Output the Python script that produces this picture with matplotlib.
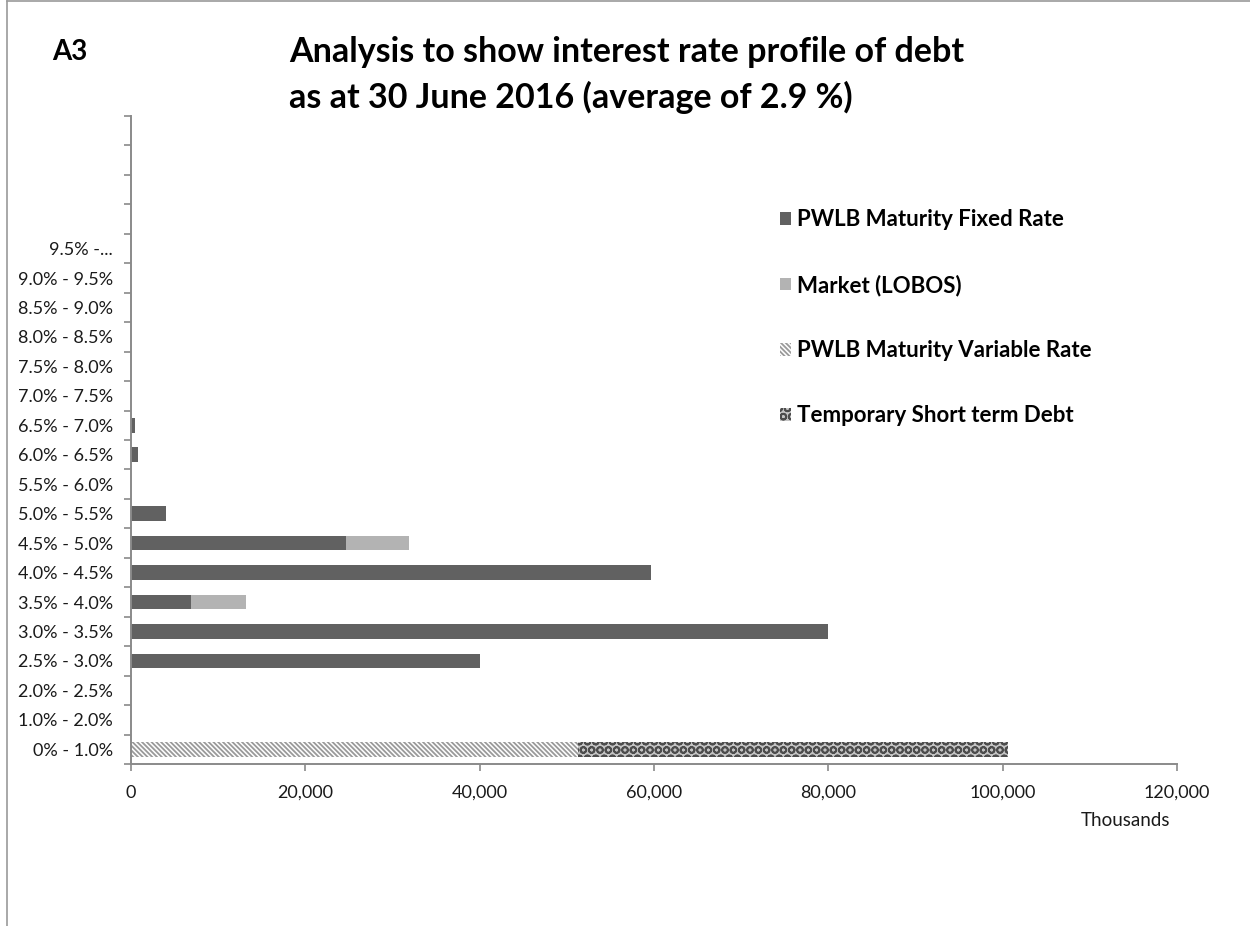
import matplotlib
matplotlib.use("Agg")
import matplotlib.pyplot as plt
import numpy as np
from matplotlib.lines import Line2D
from matplotlib.ticker import FuncFormatter

plt.rcParams['font.family'] = ['Lato', 'DejaVu Sans']
plt.rcParams['hatch.linewidth'] = 1.3

# interest rate bands, bottom to top (top four left blank)
bands = ["0% - 1.0%", "1.0% - 2.0%", "2.0% - 2.5%", "2.5% - 3.0%", "3.0% - 3.5%",
         "3.5% - 4.0%", "4.0% - 4.5%", "4.5% - 5.0%", "5.0% - 5.5%", "5.5% - 6.0%",
         "6.0% - 6.5%", "6.5% - 7.0%", "7.0% - 7.5%", "7.5% - 8.0%", "8.0% - 8.5%",
         "8.5% - 9.0%", "9.0% - 9.5%", "9.5% -...", "", "", "", ""]

# debt in £ thousands
pwlb_fixed = [0, 0, 0, 40000, 79950, 6900, 59650, 24650, 4000, 0,
              850, 450, 0, 0, 0, 0, 0, 0, 0, 0, 0, 0]
market_lobos = [0, 0, 0, 0, 0, 6250, 0, 7250, 0, 0,
                0, 0, 0, 0, 0, 0, 0, 0, 0, 0, 0, 0]
pwlb_variable = [51300, 0, 0, 0, 0, 0, 0, 0, 0, 0,
                 0, 0, 0, 0, 0, 0, 0, 0, 0, 0, 0, 0]
temp_short = [49300, 0, 0, 0, 0, 0, 0, 0, 0, 0,
              0, 0, 0, 0, 0, 0, 0, 0, 0, 0, 0, 0]

fig = plt.figure(figsize=(12.5, 9.26), dpi=100)
ax = fig.add_axes([0.1048, 0.1749, 0.8368, 0.6998])

y = np.arange(len(bands))
h = 0.5
left = np.zeros(len(bands))

b1 = ax.barh(y, pwlb_fixed, height=h, left=left, color="#616161", linewidth=0)
left += pwlb_fixed
b2 = ax.barh(y, market_lobos, height=h, left=left, color="#b3b3b3", linewidth=0)
left += market_lobos
b3 = ax.barh(y, pwlb_variable, height=h, left=left, facecolor="white",
             edgecolor="#9a9a9a", hatch="\\\\\\\\\\\\\\", linewidth=0)
left += pwlb_variable
b4 = ax.barh(y, temp_short, height=h, left=left, facecolor="#c4c4c4",
             edgecolor="#4d4d4d", hatch="OO", linewidth=0)

ax.set_xlim(0, 120000)
ax.set_ylim(-0.5, len(bands) - 0.5)
ax.set_xticks(np.arange(0, 120001, 20000))
ax.xaxis.set_major_formatter(FuncFormatter(lambda v, p: f"{int(v):,}"))
ax.set_yticks(y)
ax.set_yticklabels(bands)
ax.set_yticks(np.arange(-0.5, len(bands)), minor=True)

axis_grey = "#8a8a8a"
for s in ["top", "right"]:
    ax.spines[s].set_visible(False)
for s in ["left", "bottom"]:
    ax.spines[s].set_color(axis_grey)
    ax.spines[s].set_linewidth(1.4)

ax.tick_params(axis="y", which="major", length=0, pad=13, labelsize=13, labelcolor="#1a1a1a")
ax.tick_params(axis="y", which="minor", length=5, width=1.2, color=axis_grey)
ax.tick_params(axis="x", length=5, width=1.2, color=axis_grey, pad=10,
               labelsize=13, labelcolor="#1a1a1a")

fig.text(1170 / 1250, 1 - 821 / 926, "Thousands", ha="right", va="center",
         fontsize=13.5, color="#1a1a1a")

# heading
fig.text(52 / 1250, 1 - 52 / 926, "A3", ha="left", va="center",
         fontsize=20, fontweight="bold")
fig.text(289 / 1250, 1 - 52 / 926, "Analysis to show interest rate profile of debt",
         ha="left", va="center", fontsize=24.5, fontweight="bold")
fig.text(289 / 1250, 1 - 97 / 926, "as at 30 June 2016 (average of 2.9 %)",
         ha="left", va="center", fontsize=24.5, fontweight="bold")

leg = fig.legend([b1, b2, b3, b4],
                 ["PWLB Maturity Fixed Rate", "Market (LOBOS)",
                  "PWLB Maturity Variable Rate", "Temporary Short term Debt"],
                 loc="upper left", bbox_to_anchor=(769 / 1250, 1 - 198 / 926),
                 frameon=False, prop={"weight": "bold", "size": 16},
                 handlelength=0.5, handleheight=0.5, handletextpad=0.25,
                 labelspacing=1.99, borderpad=0)

# page frame
fig.add_artist(Line2D([7 / 1250, 7 / 1250], [0, 1 - 1 / 926], color="#9a9a9a", lw=1.2))
fig.add_artist(Line2D([7 / 1250, 1], [1 - 1 / 926, 1 - 1 / 926], color="#9a9a9a", lw=1.2))

fig.savefig("out.png", dpi=100, facecolor="white")
